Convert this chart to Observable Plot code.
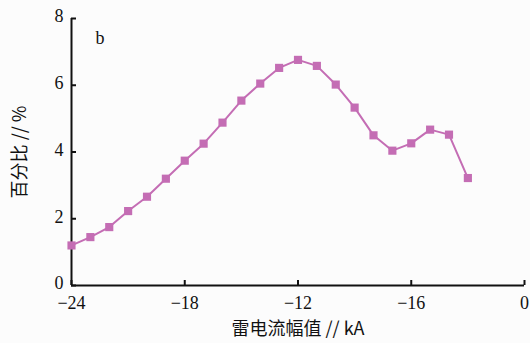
<!DOCTYPE html>
<html><head><meta charset="utf-8">
<script src="https://cdn.jsdelivr.net/npm/d3@7"></script>
<script src="https://cdn.jsdelivr.net/npm/@observablehq/plot@0.6"></script>
<style>
body{margin:0;background:#fcfcfc;}
svg{background:#fcfcfc;}
</style>
</head><body>
<div id="chart"></div>
<script>
const current = [-24,-23,-22,-21,-20,-19,-18,-17,-16,-15,-14,-13,-12,-11,-10,-9,-8,-7,-6,-5,-4,-3];
const percent = [1.2,1.45,1.75,2.23,2.66,3.2,3.74,4.25,4.88,5.54,6.05,6.52,6.76,6.58,6.02,5.33,4.5,4.04,4.26,4.67,4.52,3.22];
const xTicks = [-24,-18,-12,-6,0];
const xTickLabels = ["−24","−18","−12","−16","0"];
const yTicks = [0,2,4,6,8];
const panelLabel = "b";
const xTitle = "雷电流幅值 // kA";
const yTitle = "百分比 // %";

const data = current.map((c,i)=>({c, p: percent[i]}));
const color = "#c46db4";
const serif = "'Liberation Serif', 'DejaVu Serif', serif";
const cjk = "'Noto Sans CJK SC', 'Liberation Serif', serif";

const plot = Plot.plot({
  width: 530, height: 343,
  marginLeft: 71, marginRight: 6, marginTop: 18, marginBottom: 58,
  style: {fontFamily: serif, fontSize: "18px", background: "#fcfcfc", color: "#111"},
  x: {domain: [-24, 0]},
  y: {domain: [0, 8]},
  marks: [
    Plot.ruleY([0], {stroke: "#111", strokeWidth: 2}),
    Plot.ruleX([-24], {stroke: "#111", strokeWidth: 2}),
    Plot.axisX({ticks: xTicks, tickFormat: (d)=>xTickLabels[xTicks.indexOf(d)], tickSize: -5, tickPadding: 16, strokeWidth: 2, label: null, fontSize: 18, fontFamily: serif}),
    Plot.axisY({ticks: yTicks, tickSize: -5, strokeWidth: 2, text: null, label: null}),
    Plot.axisY({ticks: yTicks, tickSize: 0, tickPadding: 8, dy: -2, label: null, fontSize: 18, fontFamily: serif}),
    Plot.line(data, {x: "c", y: "p", stroke: color, strokeWidth: 2}),
    Plot.dot(data, {x: "c", y: "p", symbol: "square", r: 4.6, fill: color, stroke: "none"}),
    Plot.text([panelLabel], {frameAnchor: "top-left", dx: 24, dy: 13, fontSize: 18, fontFamily: serif}),
    Plot.text([xTitle], {frameAnchor: "bottom", dy: 49, fontSize: 18, fontFamily: cjk}),
    Plot.text([yTitle], {frameAnchor: "left", textAnchor: "middle", dx: -51, dy: 0, rotate: -90, fontSize: 18, fontFamily: cjk})
  ]
});
document.getElementById("chart").appendChild(plot);
</script>
</body></html>
